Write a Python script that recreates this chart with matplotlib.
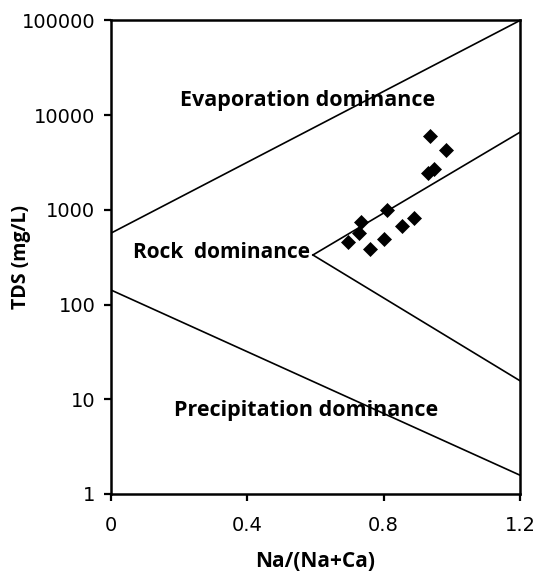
import numpy as np
import matplotlib
matplotlib.use("Agg")
import matplotlib.pyplot as plt

# Gibbs diagram: Na/(Na+Ca) vs TDS
# boundary lines (x, TDS)
evap_x = [0.0, 1.2]
evap_y = [566, 100000]
rock_up_x = [0.593, 1.2]
rock_up_y = [334, 6600]
rock_low_x = [0.593, 1.2]
rock_low_y = [334, 15.7]
prec_x = [0.0, 1.2]
prec_y = [143, 1.58]

# samples
na_ratio = [0.935, 0.984, 0.930, 0.947, 0.810, 0.734, 0.727, 0.695, 0.759, 0.802, 0.854, 0.888]
tds = [6080, 4290, 2440, 2680, 998, 740, 566, 455, 384, 493, 681, 827]

xticks = [0, 0.4, 0.8, 1.2]
xtick_labels = ["0", "0.4", "0.8", "1.2"]
yticks = [1, 10, 100, 1000, 10000, 100000]
ytick_labels = ["1", "10", "100", "1000", "10000", "100000"]

plt.rcParams['font.family'] = ['DejaVu Sans']
bold = ['Open Sans', 'DejaVu Sans']

fig = plt.figure(figsize=(5.36, 5.71), dpi=100)
ax = fig.add_axes([0.2065, 0.1349, 0.7635, 0.8292])

for xs, ys in [(evap_x, evap_y), (rock_up_x, rock_up_y), (rock_low_x, rock_low_y), (prec_x, prec_y)]:
    ax.plot(xs, ys, color="black", lw=1.2)

ax.plot(na_ratio, tds, 'D', color="black", markersize=7, markeredgewidth=0.5, linestyle="none")

ax.set_yscale("log")
ax.set_xlim(0, 1.2)
ax.set_ylim(1, 100000)
ax.set_xticks(xticks)
ax.set_xticklabels(xtick_labels)
ax.set_yticks(yticks)
ax.set_yticklabels(ytick_labels)
ax.minorticks_off()
ax.tick_params(direction="out", length=5, width=1.6, labelsize=14)
ax.tick_params(axis="x", pad=11)
ax.tick_params(axis="y", pad=6)
for s in ax.spines.values():
    s.set_linewidth(1.8)

ax.set_xlabel("Na/(Na+Ca)", fontsize=15, fontweight="bold", family=bold)
ax.set_ylabel("TDS (mg/L)", fontsize=14, fontweight="bold", family=bold)
ax.xaxis.set_label_coords(0.5, -0.12)
ax.yaxis.set_label_coords(-0.195, 0.5)

ax.text(0.576, 14400, "Evaporation dominance", ha="center", va="center",
        fontsize=15.5, fontweight="bold", family=bold)
ax.text(0.065, 351, "Rock  dominance", ha="left", va="center",
        fontsize=15, fontweight="bold", family=bold)
ax.text(0.572, 7.7, "Precipitation dominance", ha="center", va="center",
        fontsize=15.5, fontweight="bold", family=bold)

fig.savefig("out.png", dpi=100)
